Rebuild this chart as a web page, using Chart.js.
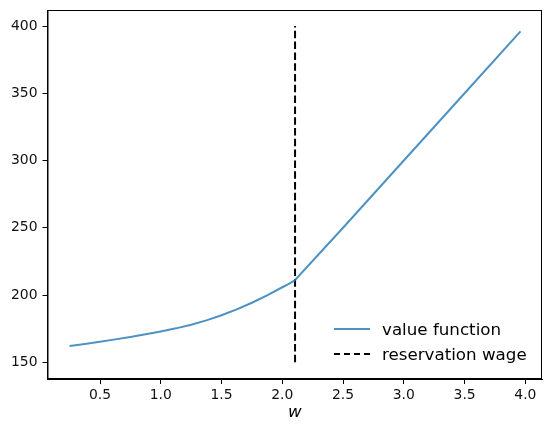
<!DOCTYPE html>
<html>
<head>
<meta charset="utf-8">
<script src="https://cdn.jsdelivr.net/npm/chart.js@4"></script>
<style>
  body { margin: 0; background: #fff; }
  #wrap { position: relative; width: 552px; height: 435px; }
  #legend { position: absolute; left: 334px; top: 316px; font-family: "DejaVu Sans", sans-serif; font-size: 16.7px; color: #000; }
  .row { display: flex; align-items: center; height: 25px; }
  .swatch { width: 36px; height: 0; margin-right: 12px; }
</style>
</head>
<body>
<div id="wrap">
  <canvas id="chart" width="552" height="435"></canvas>
  <div id="legend"></div>
</div>
<script>
// wage grid and value function
const wages = [0.25, 0.375, 0.5, 0.625, 0.75, 0.875, 1.0, 1.125, 1.25, 1.375, 1.5,
               1.625, 1.75, 1.875, 2.0, 2.05, 2.1, 2.5, 3.0, 3.5, 3.96];
const values = [162.2, 163.7, 165.3, 167.05, 168.9, 170.8, 172.9, 175.25, 177.95, 181.15, 184.95,
                189.35, 194.3, 199.8, 205.8, 208.2, 210.7, 250, 300, 350, 396];

const reservationWage = 2.105;
const reservationRange = [150, 400];

const xTicks = [0.5, 1.0, 1.5, 2.0, 2.5, 3.0, 3.5, 4.0];
const yTicks = [150, 200, 250, 300, 350, 400];

const labels = ['value function', 'reservation wage'];

const font = { family: 'DejaVu Sans', size: 13.9 };

// top and right spines, matplotlib style box
const boxPlugin = {
    id: 'box',
    afterDraw(chart) {
        const { ctx, chartArea: a } = chart;
        ctx.save();
        ctx.strokeStyle = '#000';
        ctx.lineWidth = 1;
        ctx.strokeRect(a.left + 0.5, a.top + 0.5, a.right - a.left - 1, a.bottom - a.top - 1);
        ctx.restore();
    }
};

const chart = new Chart(document.getElementById('chart'), {
    type: 'line',
    data: {
        datasets: [
            {
                label: labels[0],
                data: wages.map((w, i) => ({ x: w, y: values[i] })),
                borderColor: 'rgba(31,119,180,0.8)',
                borderWidth: 2,
                pointRadius: 0,
                tension: 0,
            },
            {
                label: labels[1],
                data: reservationRange.map(v => ({ x: reservationWage, y: v })),
                borderColor: '#000',
                borderWidth: 2,
                borderDash: [7.5, 3.3],
                pointRadius: 0,
            },
        ],
    },
    options: {
        responsive: false,
        animation: false,
        layout: { padding: { top: 10, right: 10, left: 0, bottom: 0 } },
        plugins: {
            legend: { display: false },
            tooltip: { enabled: false },
        },
        scales: {
            x: {
                type: 'linear',
                min: 0.068,
                max: 4.137,
                afterBuildTicks: s => { s.ticks = xTicks.map(v => ({ value: v })); },
                afterFit: s => { s.height = 56; s.paddingLeft = 0; s.paddingRight = 0; },
                grid: { drawOnChartArea: false, tickLength: 5, color: '#000' },
                border: { color: '#000' },
                ticks: { font, color: '#111', padding: 3, maxRotation: 0, callback: v => v.toFixed(1) },
                title: { display: true, text: 'w', font: { family: 'DejaVu Sans', size: 16.7, style: 'italic' }, color: '#000', padding: { top: 0, bottom: 12 } },
            },
            y: {
                min: 137.6,
                max: 411.9,
                afterBuildTicks: s => { s.ticks = yTicks.map(v => ({ value: v })); },
                afterFit: s => { s.width = 47.5; s.paddingTop = 0; s.paddingBottom = 0; },
                grid: { drawOnChartArea: false, tickLength: 5, color: '#000' },
                border: { color: '#000' },
                ticks: { font, color: '#111', padding: 5, callback: v => String(v) },
            },
        },
    },
    plugins: [boxPlugin],
});

// legend drawn inside the axes, lower right, no frame
const legend = document.getElementById('legend');
chart.data.datasets.forEach(ds => {
    const row = document.createElement('div');
    row.className = 'row';
    const sw = document.createElement('span');
    sw.className = 'swatch';
    sw.style.borderTop = ds.borderDash
        ? '2px dashed ' + ds.borderColor
        : '2px solid ' + ds.borderColor;
    const txt = document.createElement('span');
    txt.textContent = ds.label;
    row.appendChild(sw);
    row.appendChild(txt);
    legend.appendChild(row);
});
</script>
</body>
</html>
